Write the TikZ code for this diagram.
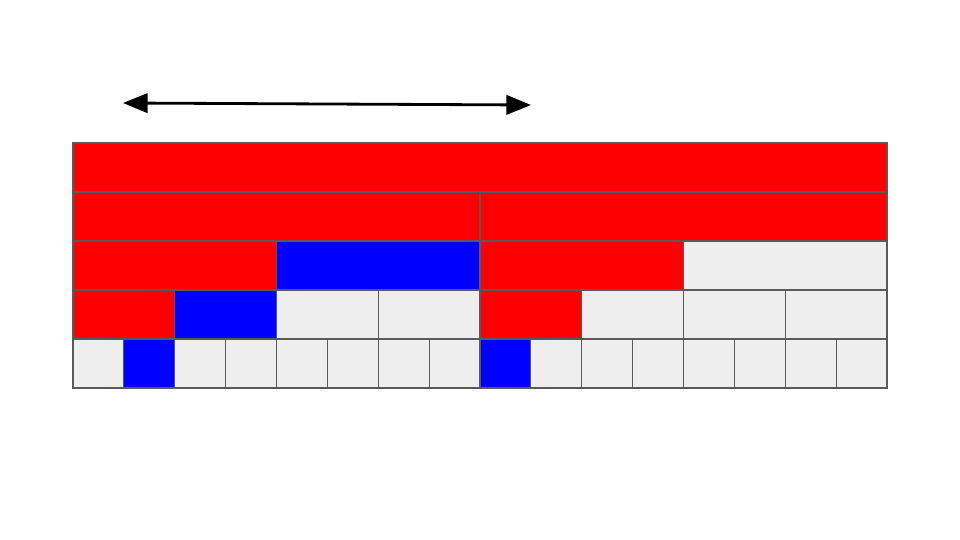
\documentclass[tikz,border=0pt]{standalone}
\usetikzlibrary{arrows.meta}
\definecolor{cellR}{RGB}{255,0,0}
\definecolor{cellB}{RGB}{0,0,255}
\definecolor{cellG}{HTML}{EEEEEE}
\definecolor{cellline}{HTML}{595959}
\tikzset{
  >=latex,
  % cells of the tree rows
  cell/.style={draw=cellline,line width=0.7pt},
  % span arrow
  span arrow/.style={{Triangle[length=14pt,width=11pt]}-{Triangle[length=14pt,width=11pt]},line width=1.6pt,black}
}

\begin{document}
\begin{tikzpicture}[x=0.02cm,y=-0.02cm]
  \useasboundingbox (0,0) rectangle (960,540);
  % rows, each one split in twice as many cells
  \foreach \cols [count=\r from 0] in {{R},{R,R},{R,B,R,G},{R,B,G,G,R,G,G,G},{G,B,G,G,G,G,G,G,B,G,G,G,G,G,G,G}} {
    \pgfmathsetmacro\w{814/2^\r}
    \foreach \c [count=\i from 0] in \cols
      \filldraw[cell,fill=cell\c] ({73+\i*\w},{143+\r*49}) rectangle ++(\w,49);
  }
  \coordinate (spanL) at (123,103);
  \coordinate (spanR) at (531,105);
  \draw[span arrow] (spanL) -- (spanR);
\end{tikzpicture}
\end{document}
